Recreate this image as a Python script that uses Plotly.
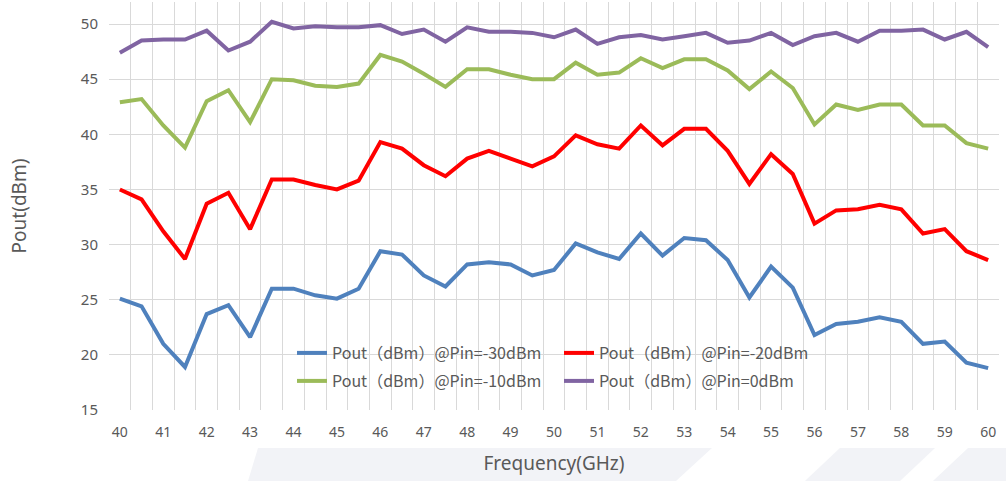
import plotly.graph_objects as go

freq = [40.0, 40.5, 41.0, 41.5, 42.0, 42.5, 43.0, 43.5, 44.0, 44.5, 45.0, 45.5, 46.0, 46.5,
        47.0, 47.5, 48.0, 48.5, 49.0, 49.5, 50.0, 50.5, 51.0, 51.5, 52.0, 52.5, 53.0, 53.5,
        54.0, 54.5, 55.0, 55.5, 56.0, 56.5, 57.0, 57.5, 58.0, 58.5, 59.0, 59.5, 60.0]

pin_m30 = [25.1, 24.4, 21.0, 18.9, 23.7, 24.5, 21.6, 26.0, 26.0, 25.4, 25.1, 26.0, 29.4, 29.1,
           27.2, 26.2, 28.2, 28.4, 28.2, 27.2, 27.7, 30.1, 29.3, 28.7, 31.0, 29.0, 30.6, 30.4,
           28.6, 25.2, 28.0, 26.1, 21.8, 22.8, 23.0, 23.4, 23.0, 21.0, 21.2, 19.3, 18.8]
pin_m20 = [35.0, 34.1, 31.2, 28.7, 33.7, 34.7, 31.4, 35.9, 35.9, 35.4, 35.0, 35.8, 39.3, 38.7,
           37.2, 36.2, 37.8, 38.5, 37.8, 37.1, 38.0, 39.9, 39.1, 38.7, 40.8, 39.0, 40.5, 40.5,
           38.5, 35.5, 38.2, 36.4, 31.9, 33.1, 33.2, 33.6, 33.2, 31.0, 31.4, 29.4, 28.6]
pin_m10 = [42.9, 43.2, 40.8, 38.8, 43.0, 44.0, 41.1, 45.0, 44.9, 44.4, 44.3, 44.6, 47.2, 46.6,
           45.5, 44.3, 45.9, 45.9, 45.4, 45.0, 45.0, 46.5, 45.4, 45.6, 46.9, 46.0, 46.8, 46.8,
           45.8, 44.1, 45.7, 44.2, 40.9, 42.7, 42.2, 42.7, 42.7, 40.8, 40.8, 39.2, 38.7]
pin_0 = [47.4, 48.5, 48.6, 48.6, 49.4, 47.6, 48.4, 50.2, 49.6, 49.8, 49.7, 49.7, 49.9, 49.1,
         49.5, 48.4, 49.7, 49.3, 49.3, 49.2, 48.8, 49.5, 48.2, 48.8, 49.0, 48.6, 48.9, 49.2,
         48.3, 48.5, 49.2, 48.1, 48.9, 49.2, 48.4, 49.4, 49.4, 49.5, 48.6, 49.3, 47.9]

x_ticks = [40, 41, 42, 43, 44, 45, 46, 47, 48, 49, 50, 51, 52, 53, 54, 55, 56, 57, 58, 59, 60]
y_ticks = [15, 20, 25, 30, 35, 40, 45, 50]

names = ["Pout（dBm）@Pin=-30dBm", "Pout（dBm）@Pin=-20dBm",
         "Pout（dBm）@Pin=-10dBm", "Pout（dBm）@Pin=0dBm"]
series = [pin_m30, pin_m20, pin_m10, pin_0]
colors = ["#4F81BD", "#FF0000", "#9BBB59", "#8064A2"]
legend_ids = ["legend", "legend2", "legend3", "legend4"]

W, H = 1006, 481
L, R, T, B = 109, 7, 2, 71
PW, PH = W - L - R, H - T - B

def px(x):
    return (x - L) / PW

def py(y):
    return (H - B - y) / PH

fig = go.Figure()
for name, ys, col, lg in zip(names, series, colors, legend_ids):
    fig.add_trace(go.Scatter(x=freq, y=ys, name=name, mode="lines",
                             line=dict(color=col, width=4), legend=lg, showlegend=True))

text_col = "#595959"
grid_col = "#D9D9D9"

# legend positions (pixel) -> paper
leg_pos = [(292, 353), (559, 353), (292, 381), (559, 381)]
leg_layout = {}
for lg, (lx, ly) in zip(legend_ids, leg_pos):
    leg_layout[lg] = dict(x=px(lx), y=py(ly), xanchor="left", yanchor="middle",
                          bgcolor="rgba(0,0,0,0)", borderwidth=0, visible=True,
                          font=dict(family="Noto Sans CJK SC", size=16, color=text_col))

# faint watermark shapes under the axis title
def poly(pts):
    s = "M " + " L ".join(f"{px(a):.4f},{py(b):.4f}" for a, b in pts) + " Z"
    return dict(type="path", path=s, xref="paper", yref="paper",
                fillcolor="#F2F3F7", line=dict(width=0), layer="below")

shapes = [
    poly([(258, 448), (712, 448), (676, 481), (248, 481)]),
    poly([(840, 448), (935, 448), (900, 481), (805, 481)]),
    poly([(968, 448), (1006, 448), (1006, 481), (933, 481)]),
]

fig.update_layout(
    width=W, height=H,
    margin=dict(l=L, r=R, t=T, b=B, autoexpand=False),
    paper_bgcolor="white", plot_bgcolor="white",
    font=dict(family="Noto Sans", color=text_col),
    showlegend=True,
    shapes=shapes,
    **leg_layout,
)

fig.update_xaxes(
    range=[39.75, 60.25], automargin=False,
    tickmode="array", tickvals=x_ticks, ticktext=[str(v) for v in x_ticks],
    showgrid=False, zeroline=False, showline=False, ticks="", ticklabelstandoff=12,
    tickfont=dict(family="Noto Sans", size=14, color=text_col),
    minor=dict(tick0=39.75, dtick=0.5, showgrid=True, gridcolor=grid_col, gridwidth=1, ticks=""),
    title=dict(text="Frequency(GHz)", font=dict(family="Noto Sans", size=19, color=text_col),
               standoff=16),
)
fig.update_yaxes(
    range=[15, 52], automargin=False,
    tickmode="array", tickvals=y_ticks,
    showgrid=True, gridcolor=grid_col, gridwidth=1, zeroline=False, showline=False,
    ticks="", ticklabelstandoff=10,
    tickfont=dict(family="Noto Sans", size=15, color=text_col),
    title=dict(text="Pout(dBm)", font=dict(family="Noto Sans", size=19, color=text_col),
               standoff=49),
)

fig.write_html("out.html", config={"displayModeBar": False},
               post_script="document.body.style.margin='0px';")
